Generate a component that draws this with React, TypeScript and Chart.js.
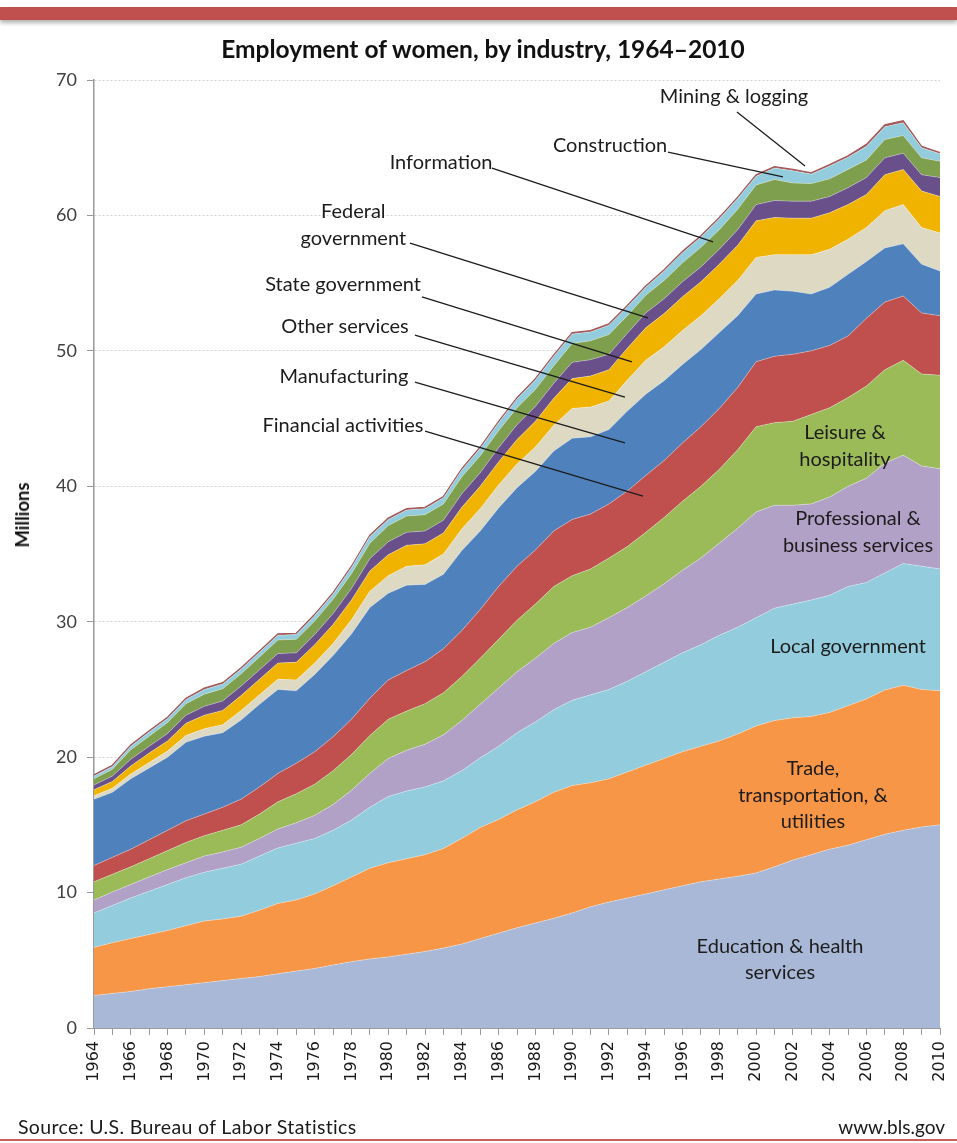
import React, { useEffect, useRef } from 'react';
import { Chart, registerables } from 'chart.js';

Chart.register(...registerables);

// ---------- data (millions of women employed) ----------
const years = [
  1964, 1965, 1966, 1967, 1968, 1969, 1970, 1971, 1972, 1973,
  1974, 1975, 1976, 1977, 1978, 1979, 1980, 1981, 1982, 1983,
  1984, 1985, 1986, 1987, 1988, 1989, 1990, 1991, 1992, 1993,
  1994, 1995, 1996, 1997, 1998, 1999, 2000, 2001, 2002, 2003,
  2004, 2005, 2006, 2007, 2008, 2009, 2010,
];

const educationHealth = [
  2.4, 2.55, 2.7, 2.9, 3.05, 3.2, 3.35, 3.5, 3.65, 3.8,
  4.0, 4.2, 4.4, 4.65, 4.9, 5.1, 5.25, 5.45, 5.65, 5.9,
  6.2, 6.6, 7.0, 7.4, 7.75, 8.1, 8.5, 8.95, 9.3, 9.6,
  9.9, 10.2, 10.5, 10.8, 11.0, 11.2, 11.45, 11.9, 12.4, 12.8,
  13.2, 13.5, 13.9, 14.3, 14.6, 14.85, 15.0,
];
const tradeTransportUtilities = [
  3.55, 3.75, 3.9, 4.0, 4.15, 4.35, 4.55, 4.55, 4.6, 4.9,
  5.2, 5.25, 5.5, 5.85, 6.25, 6.7, 6.95, 7.05, 7.15, 7.35,
  7.8, 8.2, 8.4, 8.7, 8.95, 9.3, 9.4, 9.15, 9.1, 9.3,
  9.5, 9.7, 9.9, 10.0, 10.2, 10.5, 10.85, 10.8, 10.5, 10.2,
  10.1, 10.3, 10.4, 10.65, 10.7, 10.15, 9.9,
];
const localGovernment = [
  2.55, 2.75, 3.0, 3.2, 3.4, 3.55, 3.6, 3.75, 3.85, 4.0,
  4.1, 4.2, 4.1, 4.1, 4.2, 4.5, 4.9, 5.0, 5.0, 5.0,
  5.0, 5.15, 5.4, 5.7, 5.9, 6.1, 6.3, 6.5, 6.6, 6.7,
  6.9, 7.1, 7.3, 7.5, 7.8, 7.9, 8.0, 8.3, 8.4, 8.6,
  8.65, 8.8, 8.6, 8.65, 9.0, 9.1, 9.0,
];
const professionalBusiness = [
  0.95, 1.0, 1.0, 1.05, 1.1, 1.1, 1.2, 1.2, 1.25, 1.3,
  1.4, 1.5, 1.7, 1.9, 2.2, 2.5, 2.8, 3.0, 3.15, 3.4,
  3.7, 3.95, 4.3, 4.5, 4.7, 4.9, 5.0, 5.0, 5.3, 5.45,
  5.6, 5.8, 6.1, 6.4, 6.8, 7.3, 7.8, 7.6, 7.3, 7.1,
  7.25, 7.4, 7.7, 8.1, 8.0, 7.4, 7.4,
];
const leisureHospitality = [
  1.35, 1.3, 1.3, 1.35, 1.4, 1.5, 1.5, 1.6, 1.65, 1.8,
  2.0, 2.15, 2.3, 2.5, 2.65, 2.8, 2.9, 2.9, 3.0, 3.1,
  3.25, 3.4, 3.6, 3.8, 4.0, 4.2, 4.2, 4.3, 4.4, 4.5,
  4.7, 4.9, 5.1, 5.3, 5.45, 5.8, 6.3, 6.1, 6.2, 6.6,
  6.6, 6.55, 6.8, 6.9, 7.0, 6.8, 6.9,
];
const financialActivities = [
  1.2, 1.25, 1.3, 1.4, 1.5, 1.6, 1.6, 1.7, 1.9, 2.0,
  2.1, 2.25, 2.4, 2.5, 2.6, 2.75, 2.9, 3.0, 3.1, 3.25,
  3.4, 3.6, 3.9, 4.0, 4.0, 4.1, 4.15, 4.05, 4.0, 4.1,
  4.2, 4.2, 4.3, 4.4, 4.5, 4.6, 4.8, 4.9, 4.95, 4.7,
  4.6, 4.55, 5.0, 5.0, 4.75, 4.5, 4.4,
];
const manufacturing = [
  4.9, 4.8, 5.2, 5.3, 5.4, 5.8, 5.75, 5.5, 5.85, 6.1,
  6.2, 5.35, 5.7, 6.0, 6.3, 6.7, 6.4, 6.3, 5.7, 5.5,
  5.9, 5.8, 5.8, 5.8, 5.8, 5.9, 6.0, 5.7, 5.5, 5.9,
  6.0, 5.9, 5.8, 5.7, 5.6, 5.3, 5.0, 4.9, 4.65, 4.2,
  4.3, 4.55, 4.2, 4.0, 3.85, 3.6, 3.3,
];
const otherServices = [
  0.25, 0.3, 0.35, 0.4, 0.45, 0.5, 0.55, 0.6, 0.7, 0.7,
  0.75, 0.8, 0.85, 0.9, 1.05, 1.2, 1.3, 1.4, 1.45, 1.5,
  1.6, 1.65, 1.7, 1.75, 1.8, 1.9, 2.2, 2.2, 2.1, 2.3,
  2.5, 2.5, 2.5, 2.5, 2.5, 2.6, 2.7, 2.6, 2.7, 2.9,
  2.8, 2.6, 2.5, 2.75, 2.9, 2.7, 2.8,
];
const stateGovernment = [
  0.45, 0.5, 0.6, 0.7, 0.75, 0.9, 1.0, 1.05, 1.1, 1.15,
  1.2, 1.3, 1.35, 1.4, 1.45, 1.5, 1.55, 1.55, 1.55, 1.55,
  1.6, 1.65, 1.7, 1.8, 1.9, 2.0, 2.2, 2.3, 2.3, 2.35,
  2.4, 2.45, 2.5, 2.5, 2.55, 2.6, 2.7, 2.75, 2.7, 2.7,
  2.7, 2.55, 2.45, 2.65, 2.6, 2.7, 2.7,
];
const federalGovernment = [
  0.35, 0.4, 0.5, 0.5, 0.55, 0.6, 0.65, 0.7, 0.7, 0.7,
  0.7, 0.7, 0.75, 0.8, 0.85, 0.9, 0.95, 0.95, 0.95, 0.95,
  1.0, 1.0, 1.05, 1.1, 1.1, 1.1, 1.2, 1.2, 1.15, 1.1,
  1.1, 1.1, 1.1, 1.1, 1.1, 1.15, 1.2, 1.25, 1.25, 1.25,
  1.2, 1.25, 1.25, 1.25, 1.2, 1.2, 1.4,
];
const information = [
  0.45, 0.5, 0.7, 0.75, 0.8, 0.85, 0.9, 0.9, 0.9, 0.95,
  1.0, 1.0, 1.0, 1.05, 1.1, 1.15, 1.2, 1.2, 1.2, 1.2,
  1.25, 1.25, 1.25, 1.25, 1.25, 1.3, 1.4, 1.4, 1.45, 1.3,
  1.3, 1.35, 1.4, 1.45, 1.45, 1.5, 1.45, 1.55, 1.35, 1.3,
  1.3, 1.35, 1.3, 1.35, 1.3, 1.25, 1.2,
];
const construction = [
  0.2, 0.2, 0.25, 0.3, 0.3, 0.3, 0.35, 0.35, 0.35, 0.35,
  0.35, 0.35, 0.4, 0.4, 0.45, 0.5, 0.45, 0.45, 0.45, 0.45,
  0.5, 0.55, 0.6, 0.65, 0.7, 0.7, 0.7, 0.65, 0.7, 0.65,
  0.6, 0.7, 0.75, 0.75, 0.8, 0.8, 0.65, 0.85, 0.9, 0.7,
  0.95, 0.9, 1.0, 0.95, 0.95, 0.75, 0.55,
];
const miningLogging = [
  0.1, 0.1, 0.1, 0.1, 0.1, 0.1, 0.1, 0.1, 0.1, 0.1,
  0.1, 0.1, 0.1, 0.1, 0.1, 0.1, 0.1, 0.1, 0.1, 0.1,
  0.1, 0.1, 0.1, 0.1, 0.1, 0.1, 0.1, 0.1, 0.1, 0.1,
  0.1, 0.1, 0.1, 0.1, 0.1, 0.1, 0.1, 0.1, 0.1, 0.1,
  0.1, 0.1, 0.15, 0.15, 0.15, 0.1, 0.1,
];

const seriesNames = [
  'Education & health services',
  'Trade, transportation, & utilities',
  'Local government',
  'Professional & business services',
  'Leisure & hospitality',
  'Financial activities',
  'Manufacturing',
  'Other services',
  'State government',
  'Federal government',
  'Information',
  'Construction',
  'Mining & logging',
];
const seriesValues = [
  educationHealth, tradeTransportUtilities, localGovernment, professionalBusiness,
  leisureHospitality, financialActivities, manufacturing, otherServices,
  stateGovernment, federalGovernment, information, construction, miningLogging,
];
const seriesColors = [
  '#A9B8D6', '#F79646', '#93CDDD', '#B2A1C7', '#9BBB59', '#C0504D', '#4F81BD',
  '#DDD9C3', '#F0B400', '#69508A', '#7E9F4E', '#93CDDD', '#A35656',
];

const yTickValues = [0, 10, 20, 30, 40, 50, 60, 70];

// in-chart labels, placed in data units (year, millions)
const bandLabels = [
  { lines: ['Mining & logging'], year: 1998.8, value: 68.8 },
  { lines: ['Construction'], year: 1992.06, value: 65.13 },
  { lines: ['Information'], year: 1982.87, value: 63.94 },
  { lines: ['Federal', 'government'], year: 1978.1, value: 59.3 },
  { lines: ['State government'], year: 1977.54, value: 54.86 },
  { lines: ['Other services'], year: 1977.65, value: 51.76 },
  { lines: ['Manufacturing'], year: 1977.59, value: 48.07 },
  { lines: ['Financial activities'], year: 1977.54, value: 44.45 },
  { lines: ['Leisure &', 'hospitality'], year: 2004.83, value: 42.97 },
  { lines: ['Professional &', 'business services'], year: 2005.54, value: 36.62 },
  { lines: ['Local government'], year: 2005.0, value: 28.13 },
  { lines: ['Trade,', 'transportation, &', 'utilities'], year: 2003.09, value: 17.2 },
  { lines: ['Education & health', 'services'], year: 2001.3, value: 5.06 },
];
const leaderLines = [
  [1998.96, 67.64, 2002.66, 63.65],
  [1995.21, 64.68, 2001.46, 62.84],
  [1985.64, 63.5, 1997.66, 58.04],
  [1981.18, 57.96, 1994.12, 52.43],
  [1981.83, 53.98, 1993.25, 49.19],
  [1981.45, 51.17, 1992.87, 46.59],
  [1981.45, 47.7, 1992.87, 43.2],
  [1982.0, 44.08, 1993.85, 39.28],
];

const annotationPlugin = {
  id: 'bandAnnotations',
  afterDatasetsDraw(chart: any) {
    const { ctx, scales } = chart;
    const xs = scales.x;
    const ys = scales.y;
    const px = (yr: number) => xs.getPixelForValue(yr - years[0]);
    const py = (v: number) => ys.getPixelForValue(v);
    ctx.save();
    ctx.strokeStyle = '#1c1c1c';
    ctx.lineWidth = 1.3;
    for (const [x1, y1, x2, y2] of leaderLines) {
      ctx.beginPath();
      ctx.moveTo(px(x1), py(y1));
      ctx.lineTo(px(x2), py(y2));
      ctx.stroke();
    }
    ctx.fillStyle = '#1c1c1c';
    ctx.font = '20px Lato';
    ctx.textAlign = 'center';
    ctx.textBaseline = 'middle';
    const lh = 26.5;
    for (const lab of bandLabels) {
      const cx = px(lab.year);
      const cy = py(lab.value);
      lab.lines.forEach((t, i) => {
        ctx.fillText(t, cx, cy + (i - (lab.lines.length - 1) / 2) * lh);
      });
    }
    ctx.restore();
  },
};

export default function App() {
  const ref = useRef<HTMLCanvasElement>(null);

  useEffect(() => {
    if (!ref.current) return;
    Chart.defaults.font.family = 'Lato';
    const datasets = seriesValues.map((vals, i) => {
      const isTop = i === seriesValues.length - 1;
      return {
        label: seriesNames[i],
        data: vals,
        backgroundColor: seriesColors[i],
        borderColor: isTop ? '#A35656' : 'rgba(255,255,255,0.45)',
        borderWidth: isTop ? 1.2 : 0.7,
        fill: i === 0 ? 'origin' : '-1',
        pointRadius: 0,
        pointHoverRadius: 0,
        tension: 0,
      };
    });
    const chart = new Chart(ref.current, {
      type: 'line',
      data: { labels: years.map(String), datasets },
      options: {
        responsive: false,
        animation: false,
        events: [],
        layout: { padding: { top: 80, right: 17, bottom: 45, left: 0 } },
        plugins: {
          legend: { display: false },
          tooltip: { enabled: false },
          title: { display: false },
        },
        scales: {
          x: {
            type: 'category',
            offset: false,
            grid: {
              display: true,
              drawOnChartArea: false,
              drawTicks: true,
              tickLength: 7,
              tickColor: '#9a9a9a',
              color: '#9a9a9a',
            },
            border: { display: true, color: '#9a9a9a', width: 1 },
            ticks: {
              autoSkip: false,
              maxRotation: 90,
              minRotation: 90,
              padding: 6,
              color: '#1a1a1a',
              font: { family: 'DejaVu Sans', size: 16 },
              callback: (_v: any, i: number) => (years[i] % 2 === 0 ? String(years[i]) : ''),
            },
            afterFit: (s: any) => {
              s.height = 70;
              s.paddingLeft = 0;
              s.paddingRight = 0;
            },
          },
          y: {
            stacked: true,
            min: 0,
            max: 70,
            afterBuildTicks: (s: any) => {
              s.ticks = yTickValues.map((v) => ({ value: v }));
            },
            ticks: {
              padding: 10,
              color: '#404040',
              font: { family: 'Lato', size: 18 },
            },
            grid: {
              color: (c: any) => (c.tick && c.tick.value === 0 ? 'rgba(0,0,0,0)' : '#d0d0d0'),
              lineWidth: 1,
              drawTicks: true,
              tickLength: 7,
              tickColor: '#9a9a9a',
            },
            border: { display: true, color: '#9a9a9a', width: 1.5, dash: [2, 2] },
            afterFit: (s: any) => {
              s.width = 94;
              s.paddingTop = 0;
              s.paddingBottom = 0;
            },
          },
        },
      },
      plugins: [annotationPlugin],
    } as any);
    return () => chart.destroy();
  }, []);

  return (
    <div
      style={{
        position: 'absolute',
        left: 0,
        top: 0,
        width: 957,
        height: 1143,
        background: '#ffffff',
        overflow: 'hidden',
        fontFamily: 'Lato, sans-serif',
      }}
    >
      <canvas ref={ref} width={957} height={1143} style={{ position: 'absolute', left: 0, top: 0 }} />
      <div
        style={{
          position: 'absolute',
          left: 0,
          top: 7,
          width: 957,
          height: 13,
          background: '#C0504D',
          boxShadow: '0 3px 4px rgba(0,0,0,0.3)',
        }}
      />
      <div
        style={{
          position: 'absolute',
          left: 0,
          top: 34,
          width: 966,
          textAlign: 'center',
          fontWeight: 700,
          fontSize: 24.5,
          lineHeight: '30px',
          color: '#111',
        }}
      >
        Employment of women, by industry, 1964–2010
      </div>
      <div
        style={{
          position: 'absolute',
          left: 22,
          top: 515,
          transform: 'translate(-50%, -50%) rotate(-90deg)',
          fontWeight: 700,
          fontSize: 18.5,
          whiteSpace: 'nowrap',
          color: '#111',
        }}
      >
        Millions
      </div>
      <div
        style={{
          position: 'absolute',
          left: 18,
          top: 1115,
          fontSize: 19.5,
          letterSpacing: '0.35px',
          whiteSpace: 'nowrap',
          color: '#1a1a1a',
        }}
      >
        Source: U.S. Bureau of Labor Statistics
      </div>
      <div style={{ position: 'absolute', right: 12, top: 1115, fontSize: 19, color: '#1a1a1a' }}>
        www.bls.gov
      </div>
      <div
        style={{
          position: 'absolute',
          left: 0,
          top: 1139,
          width: 957,
          height: 2,
          background: '#C9605C',
        }}
      />
    </div>
  );
}
